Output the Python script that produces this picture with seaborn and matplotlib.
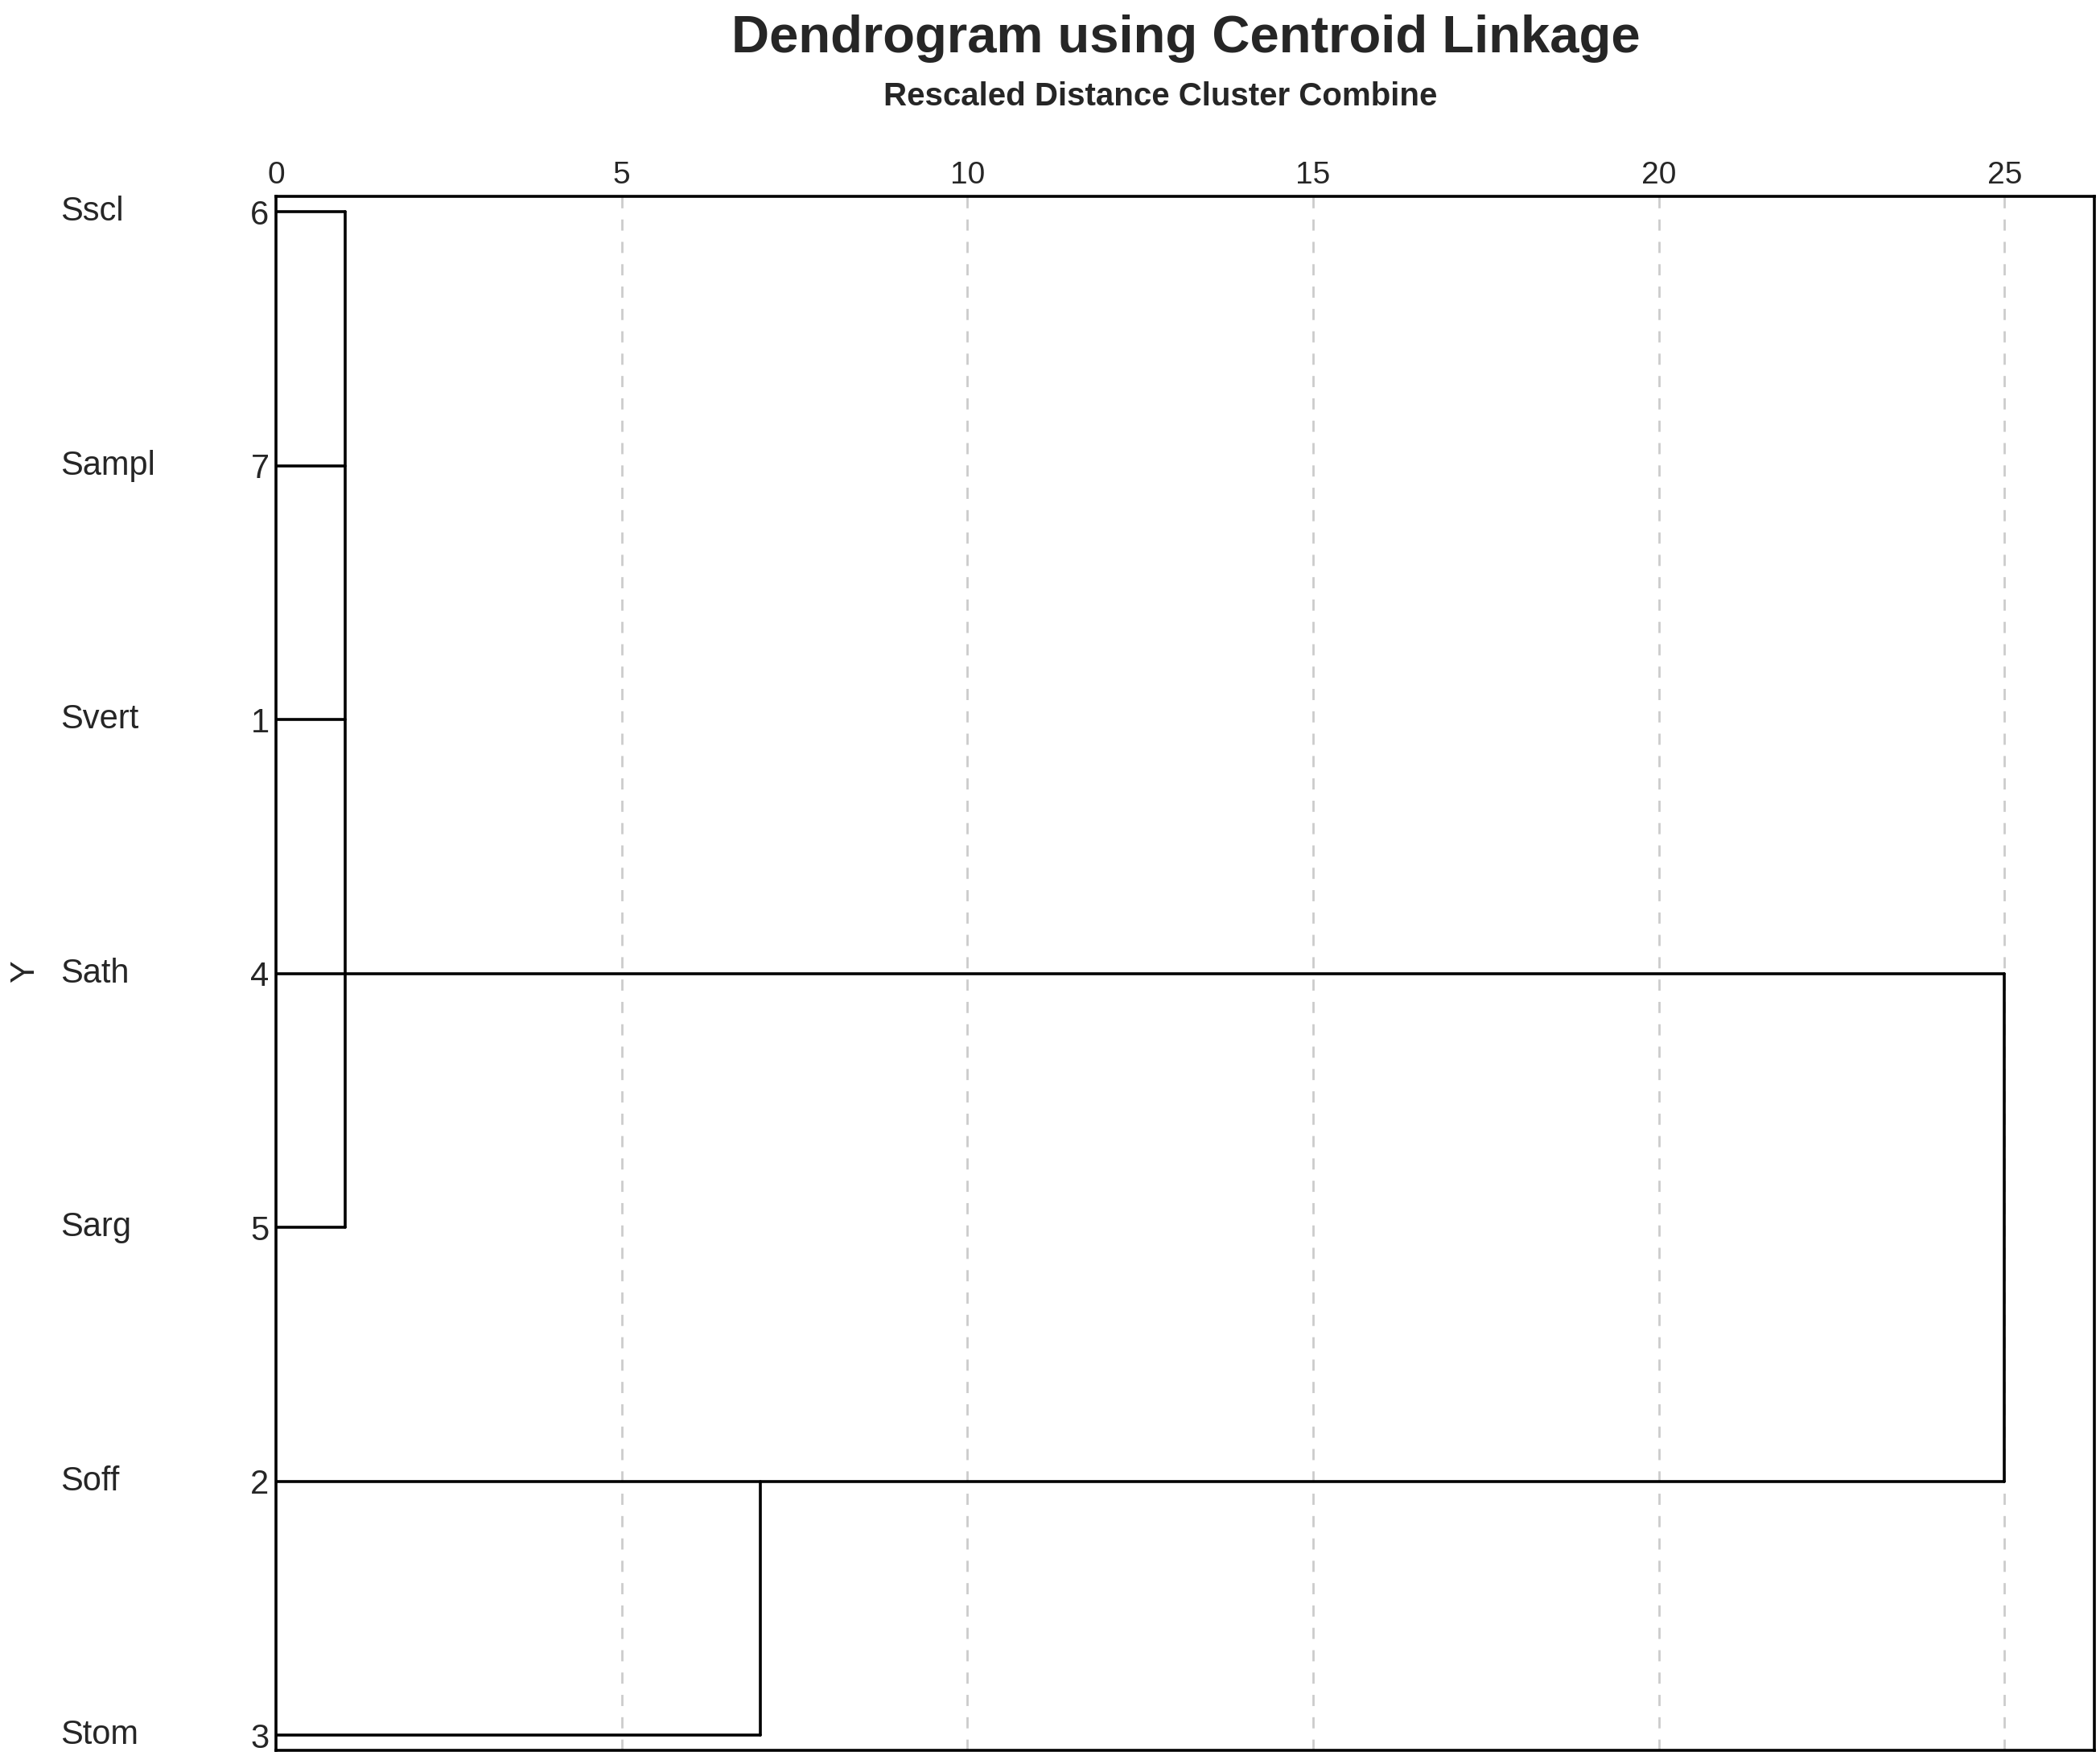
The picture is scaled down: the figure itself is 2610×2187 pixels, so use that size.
import matplotlib
matplotlib.use("Agg")
import matplotlib.pyplot as plt
import seaborn as sns
import pandas as pd

names = ["Sscl", "Sampl", "Svert", "Sath", "Sarg", "Soff", "Stom"]
case_ids = ["6", "7", "1", "4", "5", "2", "3"]
# cluster A: rows 0-4 merge at 1; cluster B: rows 5-6 merge at 7; A and B join at 25
a_rows, a_height = [0, 1, 2, 3, 4], 1
b_rows, b_height = [5, 6], 7
top_height = 25
a_anchor, b_anchor = 3, 5
xticks = [0, 5, 10, 15, 20, 25]

sns.set_theme(style="white")
plt.rcParams['font.family'] = ['Liberation Sans', 'DejaVu Sans']

segs = []
def seg(x0, y0, x1, y1):
    k = len(segs) // 2
    segs.append((k, x0, y0)); segs.append((k, x1, y1))

for r in a_rows:
    if r != a_anchor:
        seg(0, r, a_height, r)
seg(a_height, min(a_rows), a_height, max(a_rows))
for r in b_rows:
    if r != b_anchor:
        seg(0, r, b_height, r)
seg(b_height, min(b_rows), b_height, max(b_rows))
seg(0, a_anchor, top_height, a_anchor)
seg(0, b_anchor, top_height, b_anchor)
seg(top_height, a_anchor, top_height, b_anchor)
df = pd.DataFrame(segs, columns=["seg", "x", "y"])

fig = plt.figure(figsize=(26.1, 21.87), dpi=100)
ax = fig.add_axes([0.1314, 0.0054, 0.866, 0.883])
for t in xticks[1:]:
    ax.axvline(t, color="#cccccc", ls=(0, (5, 5)), lw=2, zorder=0)
sns.lineplot(data=df, x="x", y="y", units="seg", estimator=None, sort=False,
             color="black", lw=2.6, ax=ax)
ax.set_xlim(0, 26.3)
ax.set_ylim(6.06, -0.06)
ax.xaxis.tick_top()
ax.set_xticks(xticks)
ax.set_xticklabels([str(t) for t in xticks], fontsize=28)
ax.set_yticks(range(len(names)))
ax.set_yticklabels(case_ids, fontsize=30)
ax.tick_params(axis="both", length=0, pad=6)
ax.set_xlabel(""); ax.set_ylabel("")
for s in ax.spines.values():
    s.set_color("black"); s.set_linewidth(2.6)
for i, n in enumerate(names):
    ax.text(0.0288, i, n, transform=ax.get_yaxis_transform().__class__(fig.transFigure, ax.transData),
            fontsize=30, va="center", ha="left")
fig.text(0.012, 0.448, "Y", rotation=90, fontsize=30, va="center", ha="center")
fig.text(0.5645, 0.978, "Dendrogram using Centroid Linkage", fontsize=47,
         fontweight="bold", ha="center", va="center")
fig.text(0.5525, 0.945, "Rescaled Distance Cluster Combine", fontsize=29,
         fontweight="bold", ha="center", va="center")
fig.savefig("out.png", dpi=100)
